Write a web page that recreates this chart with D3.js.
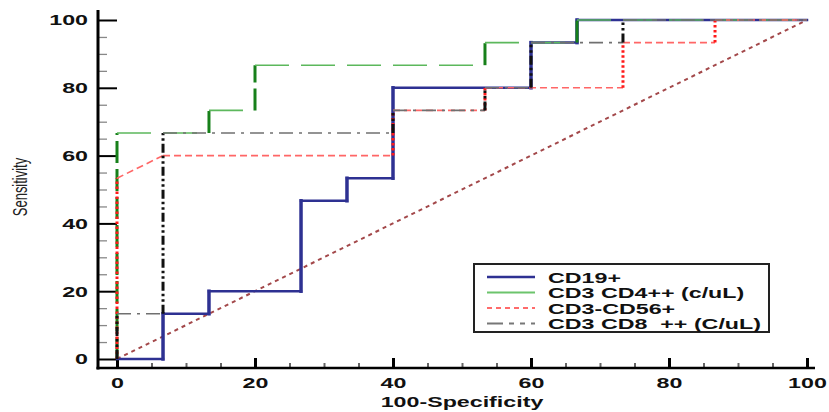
<!DOCTYPE html>
<html lang="en">
<head>
<meta charset="utf-8">
<title>ROC curves</title>
<script src="https://d3js.org/d3.v7.min.js"></script>
<style>
  body { margin: 0; background: #fff; }
  svg { display: block; }
  text { font-family: "Liberation Sans", Arial, sans-serif; }
</style>
</head>
<body>
<svg id="chart" width="829" height="412"></svg>
<script>
// ROC steps: x = 100-Specificity, y = Sensitivity
const cd19X = [0, 6.67, 6.67, 13.33, 13.33, 26.67, 26.67, 33.33, 33.33, 40, 40, 60, 60, 66.67, 66.67, 100];
const cd19Y = [0, 0, 13.33, 13.33, 20, 20, 46.67, 46.67, 53.33, 53.33, 80, 80, 93.33, 93.33, 100, 100];

const cd4X = [0, 0, 13.33, 13.33, 20, 20, 53.33, 53.33, 66.67, 66.67, 100];
const cd4Y = [0, 66.67, 66.67, 73.33, 73.33, 86.67, 86.67, 93.33, 93.33, 100, 100];

const cd56X = [0, 0, 6.67, 40, 40, 53.33, 53.33, 73.33, 73.33, 86.67, 86.67, 100];
const cd56Y = [0, 53.33, 60, 60, 73.33, 73.33, 80, 80, 93.33, 93.33, 100, 100];

const cd8X = [0, 0, 6.67, 6.67, 40, 40, 53.33, 53.33, 60, 60, 73.33, 73.33, 100];
const cd8Y = [0, 13.33, 13.33, 66.67, 66.67, 73.33, 73.33, 80, 80, 93.33, 93.33, 100, 100];

const refX = [0, 100];
const refY = [0, 100];

const seriesNames = ["CD19+", "CD3 CD4++ (c/uL)", "CD3-CD56+", "CD3 CD8  ++ (C/uL)"];
const xTicks = [0, 20, 40, 60, 80, 100];
const yTicks = [0, 20, 40, 60, 80, 100];

// the picture is stretched sideways, so text is too
const SX = 1.55;

const svg = d3.select("#chart");

const x = d3.scaleLinear().domain([0, 100]).range([117, 807]);
const y = d3.scaleLinear().domain([0, 100]).range([359, 20]);

// styles: h = horizontal segments, v = vertical segments
const styles = [
  { h: { c: "#2e3192", w: 2.5, d: null }, v: { c: "#2e3192", w: 3.5, d: null } },
  { h: { c: "#5cb85c", w: 1.6, d: "34,12" }, v: { c: "#17801a", w: 3, d: "22,6" } },
  { h: { c: "#ff6666", w: 1.6, d: "7,4" }, v: { c: "#ff1a1a", w: 3, d: "2.5,2.5" } },
  { h: { c: "#707070", w: 1.6, d: "14,6,3,6" }, v: { c: "#111", w: 3, d: "9,3,2.5,3,2.5,3" } }
];
const seriesData = [[cd19X, cd19Y], [cd4X, cd4Y], [cd56X, cd56Y], [cd8X, cd8Y]];

//axes
const yAxisMajor = d3.axisLeft(y).tickValues(yTicks).tickSizeInner(-19).tickSizeOuter(0).tickPadding(10);
const yAxisMinor = d3.axisLeft(y).tickValues(d3.range(0, 101, 5).filter(v => v % 20)).tickSizeInner(-9).tickSizeOuter(0).tickFormat("");
const xAxisMajor = d3.axisBottom(x).tickValues(xTicks).tickSizeInner(-10).tickSizeOuter(0).tickPadding(9);
const xAxisMinor = d3.axisBottom(x).tickValues(d3.range(0, 101, 5).filter(v => v % 20)).tickSizeInner(-5).tickSizeOuter(0).tickFormat("");

const gyMin = svg.append("g").attr("transform", "translate(98,0)").call(yAxisMinor);
gyMin.select(".domain").remove();
gyMin.selectAll("line").attr("stroke", "#888").attr("stroke-width", 1.3);

const gy = svg.append("g").attr("transform", "translate(98,0)").call(yAxisMajor);
gy.select(".domain").remove();
gy.selectAll("line").attr("stroke", "#000").attr("stroke-width", 2);
gy.selectAll("text")
  .attr("x", -10 / SX)
  .attr("transform", `scale(${SX},1)`)
  .attr("font-size", 15).attr("font-weight", "bold").attr("fill", "#111");

const gxMin = svg.append("g").attr("transform", "translate(0,368)").call(xAxisMinor);
gxMin.select(".domain").remove();
gxMin.selectAll("line").attr("stroke", "#666").attr("stroke-width", 2);

const gx = svg.append("g").attr("transform", "translate(0,368)").call(xAxisMajor);
gx.select(".domain").remove();
gx.selectAll("line").attr("stroke", "#000").attr("stroke-width", 3);
gx.selectAll("text")
  .attr("transform", `scale(${SX},1)`)
  .attr("font-size", 15).attr("font-weight", "bold").attr("fill", "#111");

svg.append("line").attr("x1", 98).attr("x2", 98).attr("y1", 10).attr("y2", 369.5)
  .attr("stroke", "#000").attr("stroke-width", 3);
svg.append("line").attr("x1", 96.5).attr("x2", 815).attr("y1", 368).attr("y2", 368)
  .attr("stroke", "#000").attr("stroke-width", 2.5);

//axis titles
svg.append("text")
  .attr("transform", `translate(462,407) scale(${SX},1)`)
  .attr("text-anchor", "middle")
  .attr("font-size", 15).attr("font-weight", "bold").attr("fill", "#111")
  .text("100-Specificity");

svg.append("text")
  .attr("transform", `translate(27,187) rotate(-90) scale(1,${SX})`)
  .attr("text-anchor", "middle")
  .attr("font-size", 13).attr("fill", "#222")
  .text("Sensitivity");

//diagonal reference
svg.append("path")
  .attr("d", d3.line().x(d => x(d[0])).y(d => y(d[1]))(d3.zip(refX, refY)))
  .attr("fill", "none").attr("stroke", "#a3484a").attr("stroke-width", 2)
  .attr("stroke-dasharray", "4,4");

//curves, one segment at a time so verticals can differ from horizontals
seriesData.forEach(([xs, ys], i) => {
  const pts = d3.zip(xs, ys);
  const segs = d3.pairs(pts);
  svg.append("g").selectAll("line")
    .data(segs)
    .join("line")
    .attr("x1", d => x(d[0][0])).attr("y1", d => y(d[0][1]))
    .attr("x2", d => x(d[1][0])).attr("y2", d => y(d[1][1]))
    .each(function (d) {
      const s = d[0][0] === d[1][0] ? styles[i].v : styles[i].h;
      d3.select(this)
        .attr("stroke", s.c)
        .attr("stroke-width", s.w)
        .attr("stroke-dasharray", s.d);
    })
    .attr("stroke-linecap", i === 0 ? "square" : "butt");
});

//legend
const legend = svg.append("g");
legend.append("rect")
  .attr("x", 474).attr("y", 264).attr("width", 295).attr("height", 68)
  .attr("fill", "#fff").attr("stroke", "#222").attr("stroke-width", 2);

const legendStyle = [
  { c: "#2e3192", w: 2.5, d: null },
  { c: "#6cc46c", w: 2, d: null },
  { c: "#ff6b6b", w: 2, d: "5,4" },
  { c: "#777", w: 2, d: "16,6,5,6,5,6" }
];
seriesNames.forEach((name, i) => {
  const ly = 277 + i * 15.5;
  legend.append("line")
    .attr("x1", 487).attr("x2", 535).attr("y1", ly).attr("y2", ly)
    .attr("stroke", legendStyle[i].c).attr("stroke-width", legendStyle[i].w)
    .attr("stroke-dasharray", legendStyle[i].d);
  legend.append("text")
    .attr("transform", `translate(548,${ly + 5.5}) scale(${SX},1)`)
    .attr("font-size", 15).attr("font-weight", "bold").attr("fill", "#111")
    .style("white-space", "pre")
    .text(name);
});
</script>
</body>
</html>
